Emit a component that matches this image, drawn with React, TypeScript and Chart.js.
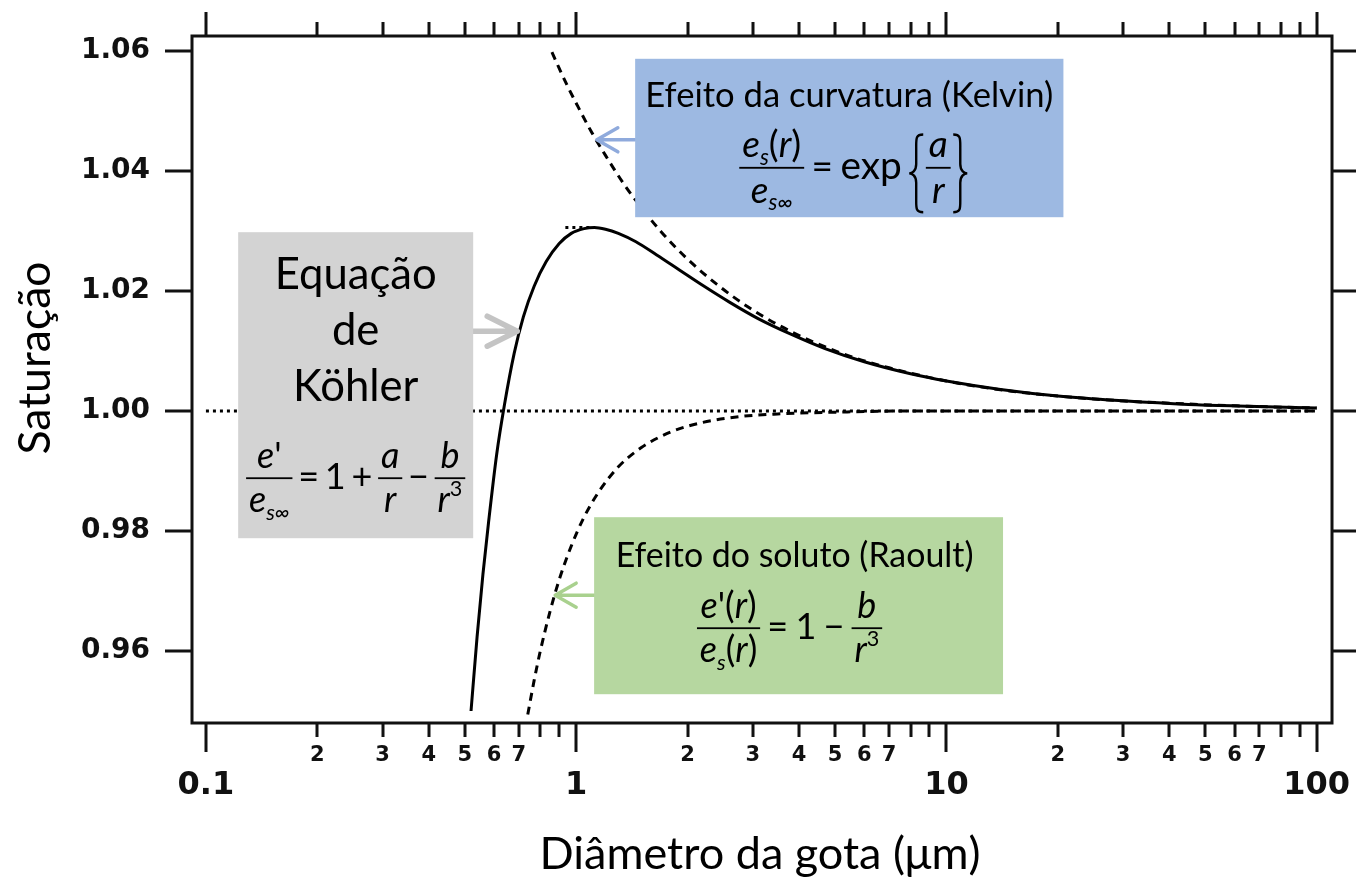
import React, { useEffect, useRef } from "react";
import { Chart, registerables } from "chart.js";

Chart.register(...registerables);

// Köhler curve: equilibrium saturation over a solution droplet vs. diameter (µm)
const kohlerDiameter = [0.52, 0.54, 0.56, 0.58, 0.61, 0.64, 0.68, 0.72, 0.77, 0.83, 0.9, 0.97, 1.05, 1.12, 1.2, 1.3, 1.45, 1.65, 1.9, 2.2, 2.6, 3.1, 3.8, 4.7, 6, 8, 10, 14, 20, 30, 45, 65, 100];
const kohlerSaturation = [0.95, 0.9624, 0.9728, 0.9815, 0.9928, 1.001, 1.0096, 1.0157, 1.0208, 1.0249, 1.0279, 1.0296, 1.0304, 1.0306, 1.0303, 1.0296, 1.0282, 1.026, 1.0235, 1.0209, 1.0181, 1.0154, 1.0128, 1.0104, 1.0082, 1.0062, 1.005, 1.0036, 1.0025, 1.0017, 1.0011, 1.0008, 1.0005];

// Curvature (Kelvin) term on its own
const kelvinDiameter = [0.86, 0.9, 0.95, 1.0, 1.1, 1.2, 1.35, 1.5, 1.7, 2.0, 2.4, 2.9, 3.5, 4.3, 5.5, 7, 10, 15, 25, 40, 65, 100];
const kelvinSaturation = [1.0598, 1.0571, 1.054, 1.0513, 1.0465, 1.0426, 1.0377, 1.0339, 1.0298, 1.0253, 1.0211, 1.0174, 1.0144, 1.0117, 1.0091, 1.0072, 1.005, 1.0033, 1.002, 1.0013, 1.0008, 1.0005];

// Solute (Raoult) term on its own
const raoultDiameter = [0.74, 0.77, 0.8, 0.85, 0.9, 0.97, 1.05, 1.15, 1.3, 1.5, 1.8, 2.2, 2.8, 3.5, 5, 8, 20, 100];
const raoultSaturation = [0.9494, 0.9551, 0.96, 0.9666, 0.9719, 0.9775, 0.9823, 0.9865, 0.9907, 0.9939, 0.9965, 0.9981, 0.9991, 0.9995, 0.9998, 1.0, 1.0, 1.0];

// Flat-surface reference, S = 1
const flatDiameter = [0.1, 100];
const flatSaturation = [1.0, 1.0];

// Short marker at the maximum of the Köhler curve
const peakDiameter = [0.935, 1.09];
const peakSaturation = [1.0306, 1.0306];

// Axis ticks
const xTicks = [0.1, 0.2, 0.3, 0.4, 0.5, 0.6, 0.7, 0.8, 0.9, 1, 2, 3, 4, 5, 6, 7, 8, 9, 10, 20, 30, 40, 50, 60, 70, 80, 90, 100];
const xTickLabels = ["0.1", "2", "3", "4", "5", "6", "7", "", "", "1", "2", "3", "4", "5", "6", "7", "", "", "10", "2", "3", "4", "5", "6", "7", "", "", "100"];
const yTicks = [0.96, 0.98, 1.0, 1.02, 1.04, 1.06];
const yTickLabels = ["0.96", "0.98", "1.00", "1.02", "1.04", "1.06"];

const X_MIN = 0.0917;
const X_MAX = 110;
const Y_MIN = 0.948;
const Y_MAX = 1.0625;

const TICK_FONT = '"DejaVu Sans", "Liberation Sans", sans-serif';
const TEXT_FONT = 'Lato, "Open Sans", sans-serif';

const isDecade = (v: number) => {
  const l = Math.log10(v);
  return Math.abs(l - Math.round(l)) < 1e-9;
};

const toPoints = (xs: number[], ys: number[]) => xs.map((x, i) => ({ x, y: ys[i] }));

// ---------- small formula typesetter ----------
type Run = { t: string; it?: boolean; sub?: boolean; sup?: boolean };
type Item = { kind: "op" | "frac" | "brace"; runs?: Run[]; num?: Run[]; den?: Run[]; k?: number };

const runFont = (r: Run, size: number) =>
  `${r.it ? "italic " : ""}${r.sub || r.sup ? size * 0.6 : size}px ${TEXT_FONT}`;

function runsWidth(ctx: CanvasRenderingContext2D, runs: Run[], size: number) {
  let w = 0;
  for (const r of runs) {
    ctx.font = runFont(r, size);
    w += ctx.measureText(r.t).width;
  }
  return w;
}

function drawRuns(ctx: CanvasRenderingContext2D, runs: Run[], x: number, y: number, size: number) {
  ctx.textAlign = "left";
  ctx.textBaseline = "alphabetic";
  for (const r of runs) {
    ctx.font = runFont(r, size);
    const dy = r.sub ? 0.2 * size : r.sup ? -0.45 * size : 0;
    ctx.fillText(r.t, x, y + dy);
    x += ctx.measureText(r.t).width;
  }
}

function drawBrace(ctx: CanvasRenderingContext2D, x: number, t: number, b: number, w: number, left: boolean) {
  const h = b - t;
  const m = (t + b) / 2;
  const s = left ? 1 : -1;
  const o = left ? x : x + w;
  const X = (f: number) => o + s * f * w;
  ctx.beginPath();
  ctx.moveTo(X(1), t);
  ctx.bezierCurveTo(X(0.45), t, X(0.5), t + h * 0.05, X(0.5), t + h * 0.18);
  ctx.lineTo(X(0.5), m - h * 0.12);
  ctx.bezierCurveTo(X(0.5), m - h * 0.03, X(0.2), m, X(0), m);
  ctx.bezierCurveTo(X(0.2), m, X(0.5), m + h * 0.03, X(0.5), m + h * 0.12);
  ctx.lineTo(X(0.5), b - h * 0.18);
  ctx.bezierCurveTo(X(0.5), b - h * 0.05, X(0.45), b, X(1), b);
  ctx.stroke();
}

function itemWidth(ctx: CanvasRenderingContext2D, it: Item, size: number) {
  const s = size * (it.k ?? 1);
  if (it.kind === "op") return runsWidth(ctx, it.runs!, s);
  const inner = Math.max(runsWidth(ctx, it.num!, s), runsWidth(ctx, it.den!, s)) + 0.16 * s;
  return it.kind === "brace" ? inner + 0.9 * s : inner;
}

function drawFormula(ctx: CanvasRenderingContext2D, items: Item[], size: number, cx: number, barY: number, gapEm = 0.2) {
  const gap = gapEm * size;
  const widths = items.map((it) => itemWidth(ctx, it, size));
  const total = widths.reduce((a, b) => a + b, 0) + gap * (items.length - 1);
  let x = cx - total / 2;
  ctx.fillStyle = "#000";
  ctx.strokeStyle = "#000";
  items.forEach((it, i) => {
    const s = size * (it.k ?? 1);
    const w = widths[i];
    if (it.kind === "op") {
      drawRuns(ctx, it.runs!, x, barY + 0.3 * s, s);
    } else {
      const bw = it.kind === "brace" ? 0.45 * s : 0;
      const fx = x + bw;
      const fw = w - 2 * bw;
      const lw = Math.max(1.5, s * 0.05);
      ctx.fillRect(fx, barY - lw / 2, fw, lw);
      const wn = runsWidth(ctx, it.num!, s);
      const wd = runsWidth(ctx, it.den!, s);
      drawRuns(ctx, it.num!, fx + (fw - wn) / 2, barY - 0.28 * s, s);
      drawRuns(ctx, it.den!, fx + (fw - wd) / 2, barY + 0.95 * s, s);
      if (it.kind === "brace") {
        ctx.lineWidth = Math.max(2, s * 0.065);
        drawBrace(ctx, x, barY - 0.9 * s, barY + 1.2 * s, 0.38 * s, true);
        drawBrace(ctx, x + w - 0.38 * s, barY - 0.9 * s, barY + 1.2 * s, 0.38 * s, false);
      }
    }
    x += w + gap;
  });
}

const kelvinFormula: Item[] = [
  { kind: "frac", num: [{ t: "e", it: true }, { t: "s", it: true, sub: true }, { t: "(" }, { t: "r", it: true }, { t: ")" }], den: [{ t: "e", it: true }, { t: "s∞", it: true, sub: true }] },
  { kind: "op", runs: [{ t: "=" }] },
  { kind: "op", runs: [{ t: "exp" }], k: 1.05 },
  { kind: "brace", num: [{ t: "a", it: true }], den: [{ t: "r", it: true }] },
];

const kohlerFormula: Item[] = [
  { kind: "frac", num: [{ t: "e", it: true }, { t: "'" }], den: [{ t: "e", it: true }, { t: "s∞", it: true, sub: true }] },
  { kind: "op", runs: [{ t: "=" }] },
  { kind: "op", runs: [{ t: "1" }] },
  { kind: "op", runs: [{ t: "+" }] },
  { kind: "frac", num: [{ t: "a", it: true }], den: [{ t: "r", it: true }] },
  { kind: "op", runs: [{ t: "−" }] },
  { kind: "frac", num: [{ t: "b", it: true }], den: [{ t: "r", it: true }, { t: "3", sup: true }] },
];

const raoultFormula: Item[] = [
  { kind: "frac", num: [{ t: "e", it: true }, { t: "'(" }, { t: "r", it: true }, { t: ")" }], den: [{ t: "e", it: true }, { t: "s", it: true, sub: true }, { t: "(" }, { t: "r", it: true }, { t: ")" }] },
  { kind: "op", runs: [{ t: "=" }] },
  { kind: "op", runs: [{ t: "1" }] },
  { kind: "op", runs: [{ t: "−" }] },
  { kind: "frac", num: [{ t: "b", it: true }], den: [{ t: "r", it: true }, { t: "3", sup: true }] },
];

// Callout boxes, placed in data coordinates (diameter, saturation)
const kelvinBox = { left: 1.443, right: 20.7, top: 1.0587, bottom: 1.0323, arrowY: 1.0452, arrowTip: 1.137 };
const kohlerBox = { left: 0.1222, right: 0.527, top: 1.0298, bottom: 0.9788, arrowY: 1.0133, arrowTip: 0.693 };
const raoultBox = { left: 1.118, right: 14.22, top: 0.9823, bottom: 0.9528, arrowY: 0.9693, arrowTip: 0.8775 };

function fitSize(ctx: CanvasRenderingContext2D, text: string, target: number) {
  ctx.font = `100px ${TEXT_FONT}`;
  return (100 * target) / ctx.measureText(text).width;
}

function drawArrow(ctx: CanvasRenderingContext2D, from: number, tip: number, y: number, color: string, lw: number, back: number, half: number) {
  const dir = tip > from ? -1 : 1;
  ctx.save();
  ctx.strokeStyle = color;
  ctx.lineWidth = lw;
  ctx.lineCap = "round";
  ctx.lineJoin = "round";
  ctx.beginPath();
  ctx.moveTo(from, y);
  ctx.lineTo(tip, y);
  ctx.moveTo(tip + dir * back, y - half);
  ctx.lineTo(tip, y);
  ctx.lineTo(tip + dir * back, y + half);
  ctx.stroke();
  ctx.restore();
}

const decorPlugin = {
  id: "decor",
  afterDatasetsDraw(chart: any) {
    const { ctx, chartArea: a } = chart;
    const xs = chart.scales.x;
    const ys = chart.scales.y;
    const px = (v: number) => xs.getPixelForValue(v);
    const py = (v: number) => ys.getPixelForValue(v);
    ctx.save();

    // frame and tick marks
    ctx.strokeStyle = "#111";
    ctx.lineWidth = 3;
    ctx.strokeRect(a.left, a.top, a.right - a.left, a.bottom - a.top);
    ctx.beginPath();
    for (const v of xTicks) {
      const x = Math.round(px(v));
      const major = isDecade(v);
      ctx.moveTo(x, a.bottom);
      ctx.lineTo(x, a.bottom + (major ? 29 : 14));
      ctx.moveTo(x, a.top);
      ctx.lineTo(x, a.top - (major ? 24 : 14));
    }
    for (const v of yTicks) {
      const y = Math.round(py(v));
      ctx.moveTo(a.left - 27, y);
      ctx.lineTo(a.left, y);
      ctx.moveTo(a.right, y);
      ctx.lineTo(a.right + 24, y);
    }
    ctx.stroke();

    const rect = (b: { left: number; right: number; top: number; bottom: number }) => {
      const l = px(b.left), r = px(b.right), t = py(b.top), bt = py(b.bottom);
      return { l, r, t, b: bt, w: r - l, h: bt - t, cx: (l + r) / 2 };
    };

    // Kelvin callout
    const kb = rect(kelvinBox);
    drawArrow(ctx, kb.l, px(kelvinBox.arrowTip), py(kelvinBox.arrowY), "#8FAADC", 3.5, 21, 12);
    ctx.fillStyle = "#9DB9E2";
    ctx.fillRect(kb.l, kb.t, kb.w, kb.h);
    ctx.fillStyle = "#000";
    const kTitle = "Efeito da curvatura (Kelvin)";
    ctx.font = `${fitSize(ctx, kTitle, 408)}px ${TEXT_FONT}`;
    ctx.textAlign = "center";
    ctx.textBaseline = "alphabetic";
    ctx.fillText(kTitle, kb.cx, kb.t + 48);
    drawFormula(ctx, kelvinFormula, 37, kb.cx + 4, kb.t + 109);

    // Köhler callout
    const gb = rect(kohlerBox);
    drawArrow(ctx, gb.r, px(kohlerBox.arrowTip), py(kohlerBox.arrowY), "#C4C4C4", 5.5, 30, 15);
    ctx.fillStyle = "#D3D3D3";
    ctx.fillRect(gb.l, gb.t, gb.w, gb.h);
    ctx.fillStyle = "#000";
    ctx.font = `${fitSize(ctx, "Equação", 162)}px ${TEXT_FONT}`;
    ctx.textAlign = "center";
    ctx.textBaseline = "alphabetic";
    ctx.fillText("Equação", gb.cx, gb.t + 57);
    ctx.fillText("de", gb.cx, gb.t + 113);
    ctx.fillText("Köhler", gb.cx, gb.t + 169);
    drawFormula(ctx, kohlerFormula, 36, gb.cx, gb.t + 246, 0.16);

    // Raoult callout
    const rb = rect(raoultBox);
    drawArrow(ctx, rb.l, px(raoultBox.arrowTip), py(raoultBox.arrowY), "#A9D18E", 3.5, 21, 12);
    ctx.fillStyle = "#B6D7A0";
    ctx.fillRect(rb.l, rb.t, rb.w, rb.h);
    ctx.fillStyle = "#000";
    const rTitle = "Efeito do soluto (Raoult)";
    ctx.font = `${fitSize(ctx, rTitle, 358)}px ${TEXT_FONT}`;
    ctx.textAlign = "center";
    ctx.textBaseline = "alphabetic";
    ctx.fillText(rTitle, rb.cx - 4, rb.t + 50);
    drawFormula(ctx, raoultFormula, 36, rb.cx - 9, rb.t + 111);

    // axis titles
    ctx.fillStyle = "#000";
    ctx.textAlign = "center";
    ctx.textBaseline = "alphabetic";
    const xTitle = "Diâmetro da gota (μm)";
    ctx.font = `${fitSize(ctx, xTitle, 441)}px ${TEXT_FONT}`;
    ctx.fillText(xTitle, (a.left + a.right) / 2 - 2, 869);
    const yTitle = "Saturação";
    ctx.font = `${fitSize(ctx, yTitle, 193)}px ${TEXT_FONT}`;
    ctx.translate(50, 358);
    ctx.rotate(-Math.PI / 2);
    ctx.fillText(yTitle, 0, 0);

    ctx.restore();
  },
};

export default function App() {
  const canvasRef = useRef<HTMLCanvasElement>(null);

  useEffect(() => {
    document.body.style.margin = "0";
    const canvas = canvasRef.current;
    if (!canvas) return;
    const line = { pointRadius: 0, showLine: true, fill: false, borderColor: "#000", backgroundColor: "#000" };
    const chart = new Chart(canvas, {
      type: "scatter",
      data: {
        datasets: [
          { ...line, label: "Köhler", data: toPoints(kohlerDiameter, kohlerSaturation), borderWidth: 3, cubicInterpolationMode: "monotone" },
          { ...line, label: "Kelvin", data: toPoints(kelvinDiameter, kelvinSaturation), borderWidth: 3, borderDash: [8, 6], cubicInterpolationMode: "monotone" },
          { ...line, label: "Raoult", data: toPoints(raoultDiameter, raoultSaturation), borderWidth: 3, borderDash: [8, 6], cubicInterpolationMode: "monotone" },
          { ...line, label: "S = 1", data: toPoints(flatDiameter, flatSaturation), borderWidth: 3, borderDash: [3, 4] },
          { ...line, label: "Máximo", data: toPoints(peakDiameter, peakSaturation), borderWidth: 3, borderDash: [3, 4] },
        ],
      } as any,
      options: {
        responsive: false,
        animation: false,
        devicePixelRatio: 1,
        layout: { padding: { top: 36, right: 24, left: 0, bottom: 0 } },
        plugins: { legend: { display: false }, tooltip: { enabled: false } },
        scales: {
          x: {
            type: "logarithmic",
            position: "bottom",
            min: X_MIN,
            max: X_MAX,
            // tick marks are drawn by the decor plugin; tickLength only offsets the labels
            grid: { display: false, drawTicks: true, tickLength: 21 },
            border: { display: false },
            afterBuildTicks: (s: any) => {
              s.ticks = xTicks.map((v) => ({ value: v, major: isDecade(v) }));
            },
            afterFit: (s: any) => {
              s.height = 159;
            },
            ticks: {
              autoSkip: false,
              maxRotation: 0,
              minRotation: 0,
              padding: 0,
              color: "#111",
              font: (c: any) =>
                c.tick && c.tick.major
                  ? { family: TICK_FONT, size: 32, weight: "bold", lineHeight: "28px" }
                  : { family: TICK_FONT, size: 21, weight: "bold", lineHeight: "24px" },
              callback: (_v: any, i: number) => (isDecade(xTicks[i]) ? ["", xTickLabels[i]] : xTickLabels[i]),
            },
          },
          y: {
            type: "linear",
            position: "left",
            min: Y_MIN,
            max: Y_MAX,
            grid: { display: false, drawTicks: true, tickLength: 42 },
            border: { display: false },
            afterBuildTicks: (s: any) => {
              s.ticks = yTicks.map((v) => ({ value: v }));
            },
            afterFit: (s: any) => {
              s.width = 192;
            },
            ticks: {
              autoSkip: false,
              padding: 0,
              color: "#111",
              font: { family: TICK_FONT, size: 28, weight: "bold" },
              callback: (_v: any, i: number) => yTickLabels[i],
            },
          },
        },
      } as any,
      plugins: [decorPlugin],
    });
    return () => chart.destroy();
  }, []);

  return (
    <div style={{ width: 1356, height: 882, overflow: "hidden", background: "#fff" }}>
      <canvas ref={canvasRef} width={1356} height={882} style={{ display: "block" }} />
    </div>
  );
}
